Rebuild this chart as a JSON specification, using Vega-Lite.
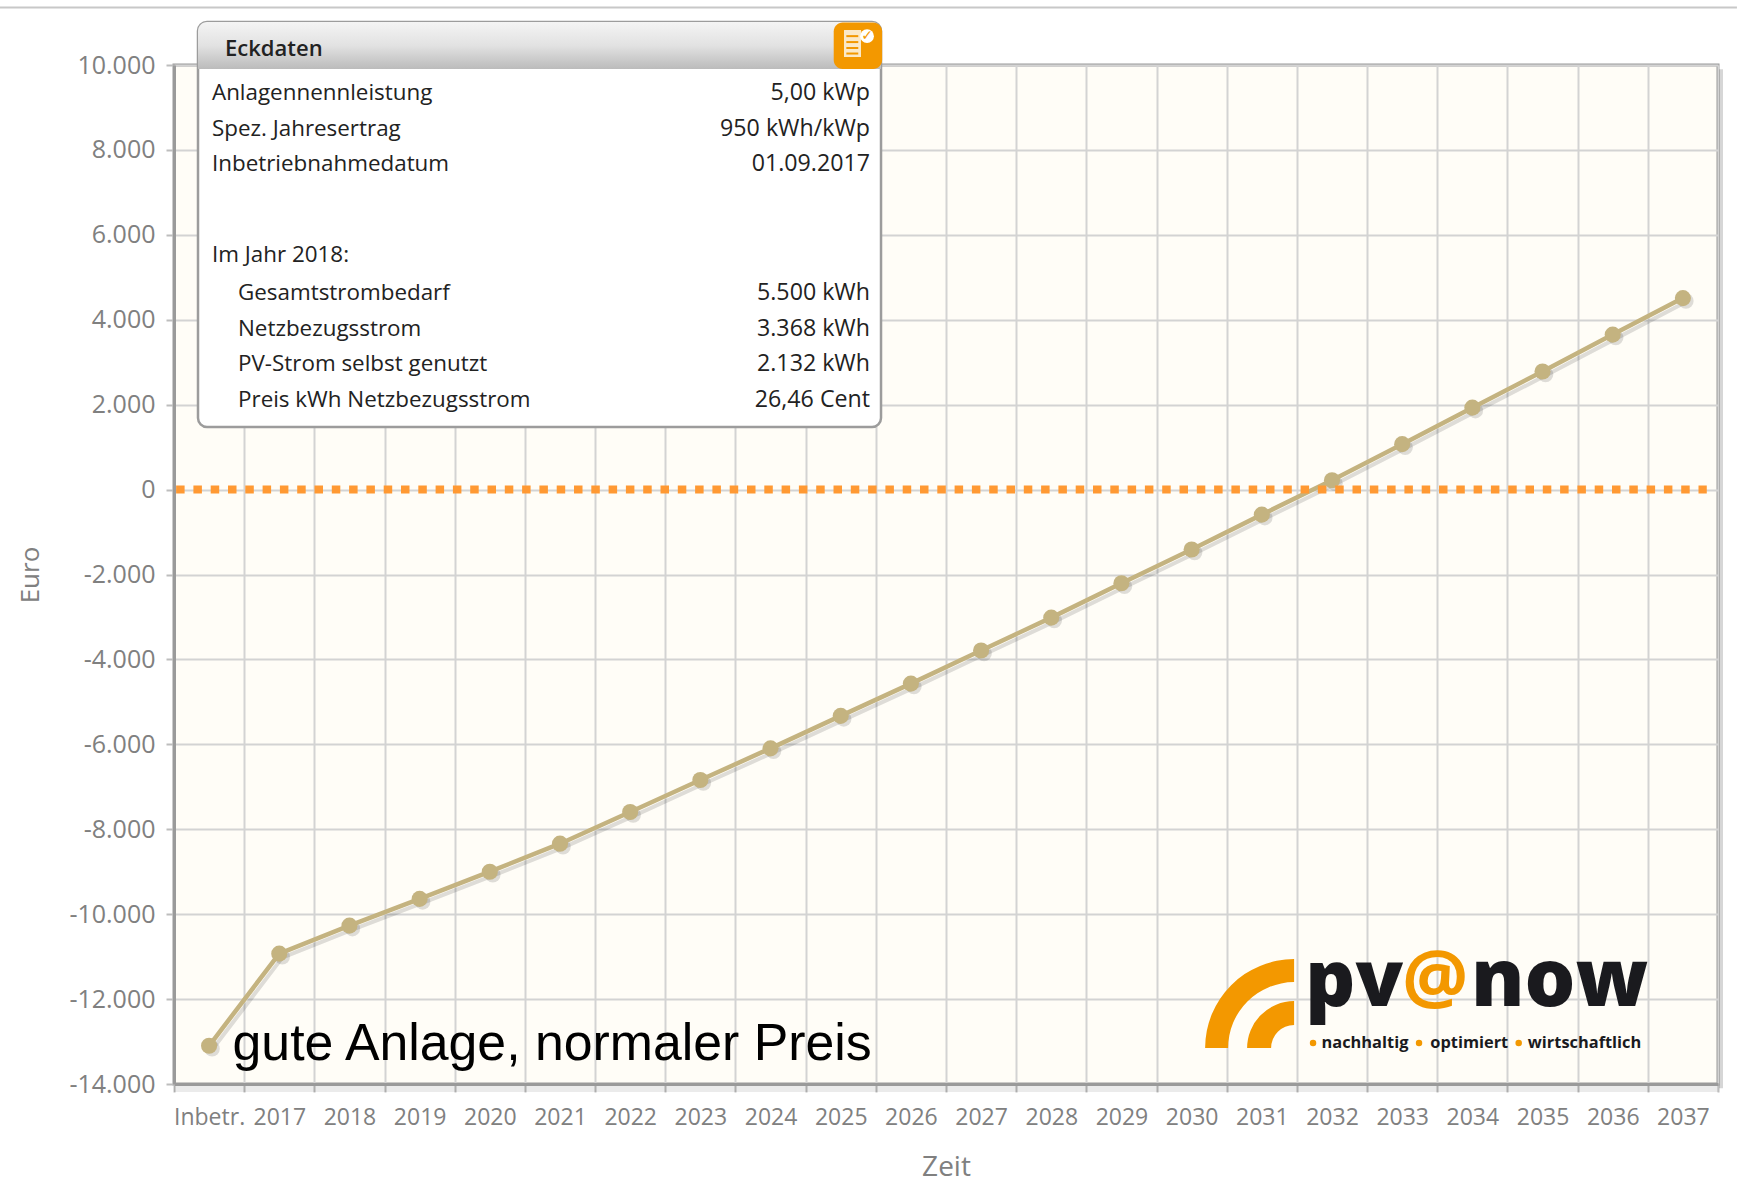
{"$schema":"https://vega.github.io/schema/vega-lite/v6.json","width":1544,"height":1019,"autosize":{"type":"none"},"padding":{"left":174,"top":65,"right":19,"bottom":105},"background":"#ffffff","view":{"fill":"#FFFDF7","stroke":"#9A9A9A","strokeWidth":3},"datasets":{"serie":[{"jahr":"Inbetr.","euro":-13100},{"jahr":"2017","euro":-10930},{"jahr":"2018","euro":-10270},{"jahr":"2019","euro":-9640},{"jahr":"2020","euro":-9000},{"jahr":"2021","euro":-8340},{"jahr":"2022","euro":-7595},{"jahr":"2023","euro":-6840},{"jahr":"2024","euro":-6095},{"jahr":"2025","euro":-5330},{"jahr":"2026","euro":-4570},{"jahr":"2027","euro":-3790},{"jahr":"2028","euro":-3015},{"jahr":"2029","euro":-2205},{"jahr":"2030","euro":-1410},{"jahr":"2031","euro":-590},{"jahr":"2032","euro":220},{"jahr":"2033","euro":1070},{"jahr":"2034","euro":1930},{"jahr":"2035","euro":2780},{"jahr":"2036","euro":3650},{"jahr":"2037","euro":4510}],"eckdaten":[{"label":"Anlagennennleistung","wert":"5,00 kWp","euro":9330,"ebene":1},{"label":"Spez. Jahresertrag","wert":"950 kWh/kWp","euro":8482,"ebene":1},{"label":"Inbetriebnahmedatum","wert":"01.09.2017","euro":7660,"ebene":1},{"label":"Im Jahr 2018:","wert":"","euro":5515,"ebene":1},{"label":"Gesamtstrombedarf","wert":"5.500 kWh","euro":4640,"ebene":2},{"label":"Netzbezugsstrom","wert":"3.368 kWh","euro":3790,"ebene":2},{"label":"PV-Strom selbst genutzt","wert":"2.132 kWh","euro":2948,"ebene":2},{"label":"Preis kWh Netzbezugsstrom","wert":"26,46 Cent","euro":2100,"ebene":2}]},"resolve":{"scale":{"x":"independent","y":"independent"}},"layer":[{"data":{"name":"serie"},"encoding":{"x":{"field":"jahr","type":"nominal","sort":null,"scale":{"type":"band","paddingInner":0,"paddingOuter":0,"domain":["Inbetr.","2017","2018","2019","2020","2021","2022","2023","2024","2025","2026","2027","2028","2029","2030","2031","2032","2033","2034","2035","2036","2037"]},"axis":{"title":"Zeit","titleFont":"Open Sans","titleFontSize":28,"titleFontWeight":"normal","titleColor":"#808080","titlePadding":24.5,"labelFont":"Open Sans","labelFontSize":23,"labelColor":"#808080","labelAngle":0,"labelOverlap":false,"labelPadding":14,"tickBand":"extent","tickColor":"#BDBDBD","tickSize":8,"tickWidth":2,"domainColor":"#9A9A9A","domainWidth":3,"grid":true,"gridColor":"#D3D3D3","gridWidth":2}},"y":{"field":"euro","type":"quantitative","scale":{"domain":[-14000,10000],"nice":false,"zero":false},"axis":{"title":"Euro","titleFont":"Open Sans","titleFontSize":26,"titleFontWeight":"normal","titleColor":"#808080","titlePadding":25,"values":[-14000,-12000,-10000,-8000,-6000,-4000,-2000,0,2000,4000,6000,8000,10000],"labelExpr":"replace(replace(format(datum.value, ','), ',', '.'), '−', '-')","labelFont":"Open Sans","labelFontSize":25,"labelColor":"#808080","labelPadding":11,"tickColor":"#BDBDBD","tickSize":8,"tickWidth":2,"domainColor":"#9A9A9A","domainWidth":3,"grid":true,"gridColor":"#D3D3D3","gridWidth":2}}},"layer":[{"mark":{"type":"line","color":"#000000","opacity":0.13,"strokeWidth":4,"xOffset":3,"yOffset":4}},{"mark":{"type":"circle","color":"#000000","opacity":0.13,"size":240,"xOffset":3,"yOffset":3}},{"mark":{"type":"line","color":"#C4B380","strokeWidth":4.5}},{"mark":{"type":"circle","color":"#C4B380","opacity":1,"size":260}}]},{"layer":[{"data":{"values":[{"y":0}]},"mark":{"type":"rule","color":"#FF9933","strokeWidth":8,"strokeDash":[8.5,8.8]},"encoding":{"x":{"datum":0.03,"type":"quantitative","scale":{"domain":[0,22],"nice":false,"zero":false},"axis":null},"x2":{"datum":21.84},"y":{"datum":0,"type":"quantitative","scale":{"domain":[-14000,10000],"nice":false,"zero":false},"axis":null}}},{"data":{"values":[{"y":0}]},"mark":{"type":"rule","color":"#C8C8C8","strokeWidth":2},"encoding":{"x":{"datum":-2.48,"type":"quantitative","axis":null},"x2":{"datum":22.27},"y":{"datum":11354,"type":"quantitative","axis":null}}},{"data":{"values":[{"y":0}]},"mark":{"type":"rule","color":"#000000","opacity":0.16,"strokeWidth":4,"xOffset":3},"encoding":{"x":{"datum":22,"type":"quantitative","axis":null},"y":{"datum":9900,"type":"quantitative","axis":null},"y2":{"datum":-14100}}},{"data":{"values":[{"y":0}]},"mark":{"type":"rule","color":"#000000","opacity":0.08,"strokeWidth":6,"yOffset":5},"encoding":{"x":{"datum":0,"type":"quantitative","axis":null},"x2":{"datum":22},"y":{"datum":-14000,"type":"quantitative","axis":null}}},{"data":{"values":[{"y":0}]},"mark":{"type":"rect","fill":"#FFFFFF","stroke":"#9C9C9C","strokeWidth":2.5,"cornerRadius":9},"encoding":{"x":{"datum":0.342,"type":"quantitative","axis":null},"x2":{"datum":10.074},"y":{"datum":11012,"type":"quantitative","axis":null},"y2":{"datum":1474}}},{"data":{"values":[{"y":0}]},"mark":{"type":"rect","cornerRadiusTopLeft":9,"cornerRadiusTopRight":9,"fill":{"gradient":"linear","x1":0,"y1":0,"x2":0,"y2":1,"stops":[{"offset":0,"color":"#F4F4F4"},{"offset":0.5,"color":"#E2E2E2"},{"offset":1,"color":"#BBBBBB"}]}},"encoding":{"x":{"datum":0.342,"type":"quantitative","axis":null},"x2":{"datum":10.074},"y":{"datum":11012,"type":"quantitative","axis":null},"y2":{"datum":9906}}},{"data":{"values":[{"t":"Eckdaten"}]},"mark":{"type":"text","align":"left","baseline":"middle","font":"Open Sans","fontSize":22,"fontWeight":600,"color":"#222222"},"encoding":{"x":{"datum":0.727,"type":"quantitative","axis":null},"y":{"datum":10380,"type":"quantitative","axis":null},"text":{"field":"t"}}},{"data":{"values":[{"y":0}]},"mark":{"type":"rect","fill":"#F39800","cornerRadius":9},"encoding":{"x":{"datum":9.4,"type":"quantitative","axis":null},"x2":{"datum":10.09},"y":{"datum":11000,"type":"quantitative","axis":null},"y2":{"datum":9906}}},{"data":{"values":[{"y":0}]},"mark":{"type":"rect","fill":"#FBE9C8"},"encoding":{"x":{"datum":9.547,"type":"quantitative","axis":null},"x2":{"datum":9.789},"y":{"datum":10824,"type":"quantitative","axis":null},"y2":{"datum":10188}}},{"data":{"values":[{"euro":10680},{"euro":10540},{"euro":10400},{"euro":10270}]},"mark":{"type":"rule","color":"#F39800","strokeWidth":2},"encoding":{"x":{"datum":9.58,"type":"quantitative","axis":null},"x2":{"datum":9.75},"y":{"field":"euro","type":"quantitative","axis":null}}},{"data":{"values":[{"t":"✓"}]},"mark":{"type":"circle","color":"#FFFFFF","opacity":1,"size":190},"encoding":{"x":{"datum":9.875,"type":"quantitative","axis":null},"y":{"datum":10680,"type":"quantitative","axis":null}}},{"data":{"values":[{"t":"✓"}]},"mark":{"type":"text","align":"center","baseline":"middle","font":"DejaVu Sans","fontSize":14,"fontWeight":"bold","color":"#F39800"},"encoding":{"x":{"datum":9.875,"type":"quantitative","axis":null},"y":{"datum":10680,"type":"quantitative","axis":null},"text":{"field":"t"}}},{"data":{"name":"eckdaten"},"transform":[{"filter":"datum.ebene == 1"}],"mark":{"type":"text","align":"left","baseline":"middle","font":"Open Sans","fontSize":22.4,"color":"#222222"},"encoding":{"x":{"datum":0.541,"type":"quantitative","axis":null},"y":{"field":"euro","type":"quantitative","axis":null},"text":{"field":"label"}}},{"data":{"name":"eckdaten"},"transform":[{"filter":"datum.ebene == 2"}],"mark":{"type":"text","align":"left","baseline":"middle","font":"Open Sans","fontSize":22.4,"color":"#222222"},"encoding":{"x":{"datum":0.912,"type":"quantitative","axis":null},"y":{"field":"euro","type":"quantitative","axis":null},"text":{"field":"label"}}},{"data":{"name":"eckdaten"},"mark":{"type":"text","align":"right","baseline":"middle","font":"Open Sans","fontSize":23.2,"color":"#222222"},"encoding":{"x":{"datum":9.917,"type":"quantitative","axis":null},"y":{"field":"euro","type":"quantitative","axis":null},"text":{"field":"wert"}}},{"data":{"values":[{"t":"gute Anlage, normaler Preis"}]},"mark":{"type":"text","align":"left","baseline":"alphabetic","font":"Liberation Sans","fontSize":51.8,"color":"#000000"},"encoding":{"x":{"datum":0.834,"type":"quantitative","axis":null},"y":{"datum":-13434,"type":"quantitative","axis":null},"text":{"field":"t"}}},{"data":{"values":[{"y":0}]},"mark":{"type":"arc","fill":"#F39800","innerRadius":66,"outerRadius":89,"theta":-1.5708,"theta2":0},"encoding":{"x":{"datum":15.96,"type":"quantitative","axis":null},"y":{"datum":-13155,"type":"quantitative","axis":null}}},{"data":{"values":[{"y":0}]},"mark":{"type":"arc","fill":"#F39800","innerRadius":23,"outerRadius":47,"theta":-1.5708,"theta2":0},"encoding":{"x":{"datum":15.96,"type":"quantitative","axis":null},"y":{"datum":-13155,"type":"quantitative","axis":null}}},{"data":{"values":[{"t":"pv"}]},"mark":{"type":"text","align":"left","baseline":"alphabetic","font":"Open Sans","fontSize":78,"fontWeight":800,"color":"#1A1A1E"},"encoding":{"x":{"datum":16.12,"type":"quantitative","axis":null},"y":{"datum":-12162,"type":"quantitative","axis":null},"text":{"field":"t"}}},{"data":{"values":[{"t":"now"}]},"mark":{"type":"text","align":"left","baseline":"alphabetic","font":"Open Sans","fontSize":80,"fontWeight":800,"color":"#1A1A1E"},"encoding":{"x":{"datum":18.48,"type":"quantitative","axis":null},"y":{"datum":-12162,"type":"quantitative","axis":null},"text":{"field":"t"}}},{"data":{"values":[{"t":"@"}]},"mark":{"type":"text","align":"center","baseline":"middle","font":"Open Sans","fontSize":74,"fontWeight":"bold","color":"#F39800"},"encoding":{"x":{"datum":17.97,"type":"quantitative","axis":null},"y":{"datum":-11573,"type":"quantitative","axis":null},"text":{"field":"t"}}},{"data":{"values":[{"t":"nachhaltig","xu":16.35},{"t":"optimiert","xu":17.9},{"t":"wirtschaftlich","xu":19.29}]},"mark":{"type":"text","align":"left","baseline":"middle","font":"Open Sans","fontSize":16.4,"fontWeight":"bold","color":"#1A1A1E"},"encoding":{"x":{"field":"xu","type":"quantitative","axis":null},"y":{"datum":-13033,"type":"quantitative","axis":null},"text":{"field":"t"}}},{"data":{"values":[{"xu":16.23},{"xu":17.74},{"xu":19.16}]},"mark":{"type":"circle","color":"#F39800","opacity":1,"size":42},"encoding":{"x":{"field":"xu","type":"quantitative","axis":null},"y":{"datum":-13033,"type":"quantitative","axis":null}}}]}]}
